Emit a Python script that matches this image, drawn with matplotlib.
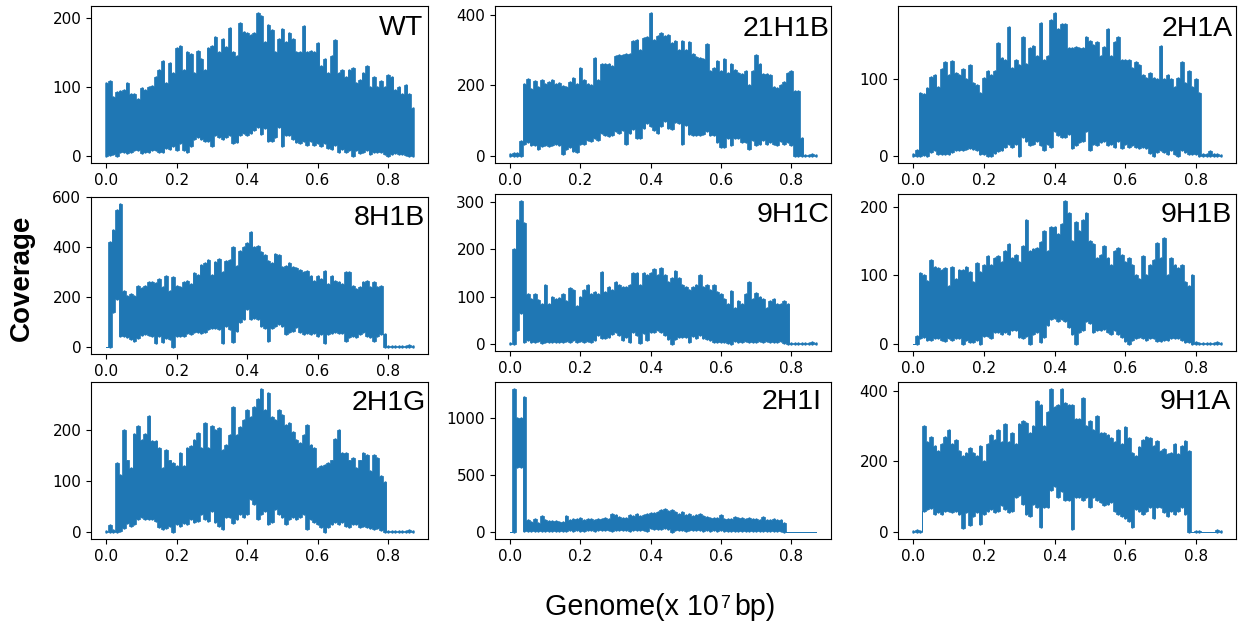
import numpy as np
import matplotlib
matplotlib.use('Agg')
import matplotlib.pyplot as plt

W, H = 1246, 628

# Genome position, x 10^7 bp
genome_pos = np.arange(88) / 100

# Coverage peaks and dips at every 0.01 of genome position
wt_high = [105, 108, 86, 92, 94, 95, 105, 90, 90, 82,
           98, 95, 100, 102, 114, 125, 137, 105, 135, 120,
           157, 160, 125, 150, 148, 120, 152, 140, 125, 157,
           160, 172, 150, 170, 158, 185, 150, 145, 192, 180,
           178, 175, 178, 207, 203, 165, 190, 182, 150, 170,
           184, 165, 178, 170, 150, 150, 188, 150, 152, 150,
           163, 130, 140, 120, 145, 168, 120, 125, 115, 125,
           127, 105, 110, 120, 130, 100, 115, 100, 108, 100,
           118, 115, 95, 100, 90, 103, 90, 70]
wt_low = [0, 1, 3, 0, 5, 5, 4, 6, 8, 8,
          4, 5, 5, 8, 8, 6, 5, 12, 10, 15,
          8, 18, 8, 6, 15, 25, 28, 25, 22, 22,
          15, 30, 28, 24, 28, 30, 18, 20, 30, 33,
          30, 33, 38, 42, 32, 40, 22, 22, 28, 42,
          14, 30, 30, 25, 20, 18, 22, 16, 22, 16,
          18, 14, 18, 12, 10, 16, 6, 10, 6, 8,
          0, 8, 4, 5, 8, 3, 6, 6, 5, 3,
          0, 3, 4, 3, 2, 1, 0, 0]

b21_high = [4, 8, 8, 42, 205, 218, 190, 212, 195, 215,
            205, 210, 215, 205, 208, 198, 195, 210, 222, 205,
            250, 215, 205, 200, 278, 215, 260, 262, 262, 255,
            282, 285, 285, 288, 290, 325, 328, 300, 335, 338,
            405, 330, 340, 348, 340, 342, 320, 325, 300, 325,
            300, 322, 290, 280, 278, 275, 318, 240, 250, 268,
            240, 275, 235, 260, 245, 235, 232, 240, 200, 240,
            285, 260, 232, 232, 230, 195, 192, 200, 210, 235,
            240, 185, 185, 50, 2, 2, 6, 2]
b21_low = [0, 0, 0, 0, 35, 38, 32, 30, 20, 28,
           30, 28, 30, 35, 30, 5, 20, 25, 15, 12,
           35, 35, 45, 42, 50, 45, 65, 60, 55, 60,
           70, 65, 72, 35, 65, 75, 52, 52, 78, 92,
           85, 72, 65, 85, 100, 80, 75, 95, 92, 35,
           88, 62, 58, 60, 58, 62, 70, 60, 60, 40,
           25, 25, 50, 30, 50, 52, 38, 40, 20, 45,
           30, 35, 45, 35, 40, 35, 32, 42, 35, 40,
           30, 0, 0, 0, 0, 0, 0, 0]

a2_high = [2, 8, 82, 80, 88, 103, 106, 90, 113, 122,
           105, 123, 108, 105, 113, 100, 118, 95, 92, 82,
           102, 110, 105, 110, 147, 128, 125, 168, 115, 125,
           118, 155, 120, 140, 143, 130, 173, 125, 130, 177,
           186, 165, 172, 172, 140, 140, 142, 140, 140, 155,
           150, 145, 148, 130, 142, 165, 130, 148, 155, 125,
           125, 125, 115, 122, 118, 105, 102, 108, 102, 100,
           143, 100, 105, 100, 90, 102, 122, 95, 110, 90,
           100, 82, 3, 3, 6, 2, 3, 1]
a2_low = [0, 0, 0, 1, 0, 5, 7, 3, 2, 2,
          2, 5, 8, 8, 8, 9, 10, 9, 8, 3,
          2, 0, 0, 4, 6, 7, 12, 15, 11, 15,
          0, 25, 20, 14, 16, 20, 14, 8, 15, 12,
          33, 27, 25, 24, 28, 10, 14, 18, 20, 33,
          8, 15, 14, 18, 20, 14, 16, 12, 20, 10,
          16, 12, 14, 12, 10, 12, 10, 4, 0, 5,
          8, 5, 3, 8, 2, 0, 8, 5, 3, 2,
          3, 0, 0, 0, 0, 0, 0, 0]

b8_high = [0, 420, 470, 550, 572, 225, 205, 210, 205, 245,
           235, 245, 260, 260, 255, 270, 240, 285, 225, 280,
           245, 240, 260, 265, 250, 298, 290, 330, 335, 350,
           290, 340, 352, 300, 345, 350, 400, 325, 385, 400,
           415, 460, 400, 405, 380, 370, 345, 335, 372, 370,
           320, 325, 335, 320, 318, 310, 300, 305, 285, 265,
           285, 270, 305, 250, 285, 265, 260, 250, 300, 300,
           245, 230, 240, 260, 265, 240, 260, 240, 245, 50,
           5, 5, 5, 5, 5, 5, 8, 3]
b8_low = [0, 0, 140, 190, 45, 42, 40, 30, 22, 35,
          48, 50, 48, 45, 15, 45, 20, 35, 30, 0,
          45, 42, 45, 55, 50, 60, 60, 55, 60, 70,
          75, 75, 70, 15, 85, 70, 20, 65, 100, 110,
          150, 110, 115, 110, 85, 75, 25, 75, 85, 90,
          85, 50, 60, 65, 80, 60, 50, 55, 50, 55,
          45, 50, 15, 50, 55, 60, 55, 55, 25, 40,
          45, 40, 50, 60, 45, 40, 25, 45, 50, 0,
          0, 0, 0, 0, 0, 0, 0, 0]

c9_high = [1, 200, 262, 302, 255, 105, 95, 105, 92, 85,
           125, 85, 100, 95, 98, 105, 90, 118, 115, 80,
           100, 115, 125, 105, 110, 105, 152, 110, 120, 115,
           130, 125, 120, 120, 125, 150, 150, 125, 150, 145,
           150, 158, 145, 160, 145, 130, 140, 155, 140, 125,
           120, 115, 120, 125, 145, 120, 125, 115, 125, 110,
           105, 95, 85, 112, 75, 90, 85, 105, 130, 95,
           108, 100, 95, 75, 90, 95, 85, 85, 90, 85,
           2, 1, 1, 1, 1, 1, 3, 1]
c9_low = [0, 0, 30, 65, 5, 8, 5, 3, 6, 2,
          5, 4, 4, 3, 5, 4, 6, 3, 8, 3,
          6, 5, 6, 5, 8, 18, 12, 12, 14, 20,
          25, 18, 8, 14, 5, 25, 18, 2, 22, 8,
          25, 25, 30, 25, 18, 10, 0, 10, 15, 14,
          15, 5, 16, 12, 18, 12, 10, 8, 5, 5,
          5, 4, 2, 0, 6, 5, 4, 6, 5, 3,
          3, 6, 4, 6, 4, 3, 5, 6, 2, 0,
          0, 0, 0, 0, 0, 0, 0, 0]

b9_high = [0, 12, 104, 100, 92, 122, 112, 110, 108, 110,
           85, 112, 95, 108, 108, 112, 105, 90, 118, 105,
           115, 128, 115, 125, 128, 120, 135, 145, 125, 130,
           120, 142, 180, 135, 138, 140, 148, 165, 135, 170,
           170, 160, 175, 208, 190, 150, 178, 165, 180, 190,
           150, 145, 125, 130, 143, 125, 115, 135, 140, 130,
           120, 125, 115, 100, 95, 128, 100, 115, 122, 147,
           125, 155, 100, 125, 115, 110, 115, 90, 85, 100,
           2, 1, 1, 1, 1, 1, 2, 1]
b9_low = [0, 0, 8, 10, 6, 6, 8, 8, 6, 4,
          8, 6, 8, 8, 0, 5, 2, 3, 5, 0,
          12, 12, 8, 18, 18, 15, 18, 14, 20, 20,
          10, 8, 12, 0, 14, 18, 2, 10, 28, 36,
          38, 33, 36, 33, 25, 15, 0, 18, 20, 34,
          30, 18, 20, 20, 22, 18, 15, 20, 15, 10,
          4, 0, 5, 8, 10, 8, 5, 8, 8, 4,
          4, 5, 6, 8, 8, 8, 6, 3, 2, 0,
          0, 0, 0, 0, 0, 0, 0, 0]

g2_high = [1, 14, 3, 135, 112, 200, 140, 125, 192, 208,
           180, 192, 228, 178, 178, 165, 125, 160, 140, 135,
           130, 155, 130, 165, 168, 180, 193, 165, 213, 165,
           207, 200, 203, 160, 170, 190, 245, 190, 205, 220,
           240, 225, 245, 260, 280, 240, 272, 225, 220, 240,
           230, 210, 213, 195, 180, 175, 190, 210, 170, 165,
           125, 130, 132, 135, 140, 182, 200, 155, 155, 140,
           145, 125, 140, 155, 150, 120, 150, 145, 110, 98,
           1, 1, 2, 1, 1, 1, 4, 2]
g2_low = [0, 0, 0, 0, 2, 8, 18, 12, 15, 25,
          30, 25, 25, 25, 22, 10, 5, 8, 12, 0,
          15, 12, 18, 15, 25, 20, 22, 35, 25, 22,
          40, 20, 12, 5, 30, 30, 18, 25, 35, 30,
          35, 65, 55, 25, 35, 40, 15, 20, 45, 35,
          30, 15, 25, 30, 25, 30, 35, 5, 25, 20,
          15, 10, 0, 10, 15, 20, 15, 20, 12, 10,
          15, 15, 10, 12, 10, 8, 5, 8, 4, 0,
          0, 0, 0, 0, 0, 0, 0, 0]

i2_high = [1, 1250, 1000, 1000, 1180, 105, 85, 115, 80, 140,
           105, 95, 95, 95, 85, 90, 140, 100, 110, 110,
           125, 105, 115, 110, 105, 115, 110, 120, 110, 160,
           145, 130, 120, 125, 145, 135, 155, 140, 145, 155,
           165, 165, 170, 195, 200, 185, 195, 170, 160, 175,
           150, 160, 140, 145, 155, 140, 130, 125, 125, 120,
           145, 115, 110, 115, 130, 125, 120, 115, 120, 110,
           110, 105, 130, 105, 100, 115, 105, 100, 80, 1,
           1, 1, 1, 1, 1, 1, 1, 1]
i2_low = [0, 0, 570, 570, 5, 10, 5, 8, 5, 8,
          5, 8, 10, 10, 8, 5, 10, 12, 10, 12,
          8, 10, 12, 12, 10, 15, 15, 12, 15, 10,
          20, 15, 15, 18, 10, 18, 15, 20, 12, 10,
          30, 28, 28, 25, 30, 25, 2, 20, 20, 15,
          10, 12, 15, 18, 15, 10, 12, 10, 12, 8,
          12, 5, 10, 5, 8, 8, 10, 5, 10, 5,
          8, 5, 10, 5, 8, 10, 5, 10, 0, 0,
          0, 0, 0, 0, 0, 0, 0, 0]

a9_high = [2, 5, 3, 300, 255, 270, 245, 230, 250, 270,
           288, 250, 260, 230, 215, 225, 238, 225, 215, 245,
           200, 250, 275, 260, 290, 255, 305, 255, 280, 250,
           305, 315, 310, 280, 300, 370, 360, 300, 340, 405,
           355, 360, 405, 365, 360, 360, 320, 320, 380, 300,
           315, 290, 328, 280, 280, 275, 265, 255, 288, 250,
           298, 265, 225, 215, 240, 260, 270, 265, 245, 258,
           230, 235, 220, 225, 250, 220, 245, 258, 230, 1,
           2, 3, 1, 1, 1, 1, 6, 2]
a9_low = [0, 0, 0, 60, 65, 68, 50, 55, 50, 60,
          58, 55, 60, 50, 10, 55, 20, 45, 55, 22,
          50, 60, 65, 55, 60, 75, 65, 55, 60, 100,
          105, 80, 50, 45, 80, 70, 15, 70, 70, 120,
          130, 100, 115, 90, 90, 8, 100, 100, 90, 100,
          70, 100, 90, 85, 75, 80, 85, 60, 50, 45,
          40, 30, 15, 65, 60, 50, 60, 70, 40, 70,
          70, 55, 45, 60, 50, 60, 70, 50, 0, 0,
          0, 0, 0, 0, 0, 0, 0, 0]

names = ['WT', '21H1B', '2H1A', '8H1B', '9H1C', '9H1B', '2H1G', '2H1I', '9H1A']
highs = [wt_high, b21_high, a2_high, b8_high, c9_high, b9_high, g2_high, i2_high, a9_high]
lows = [wt_low, b21_low, a2_low, b8_low, c9_low, b9_low, g2_low, i2_low, a9_low]
x_ticks = [0, 0.2, 0.4, 0.6, 0.8]
y_ticks = [[0, 100, 200], [0, 200, 400], [0, 100],
           [0, 200, 400, 600], [0, 100, 200, 300], [0, 100, 200],
           [0, 100, 200], [0, 500, 1000], [0, 200, 400]]

# left, right, top, bottom of each panel in pixels
boxes = [(91, 428, 6, 163), (495, 831, 6, 163), (898, 1236, 6, 163),
         (91, 428, 197, 354), (495, 831, 194, 351), (898, 1236, 194, 351),
         (91, 428, 382, 539), (495, 831, 382, 539), (898, 1236, 382, 539)]
# right end and middle height of the panel names in pixels
label_pos = [(423, 28), (829, 29), (1233, 29),
             (425, 218), (829, 215), (1232, 215),
             (426, 403), (822, 402), (1231, 402)]

fig = plt.figure(figsize=(W / 100, H / 100), dpi=100)

for i in range(9):
    left, right, top, bottom = boxes[i]
    ax = fig.add_axes([left / W, 1 - bottom / H, (right - left) / W, (bottom - top) / H])
    # the trace is too dense to see single swings, so draw its band of peaks and dips
    ax.fill_between(genome_pos, lows[i], highs[i], step='mid', color='C0', lw=0.5)
    ax.vlines(genome_pos, lows[i], highs[i], color='C0', lw=1.8, capstyle='round')
    ax.set_xticks(x_ticks)
    ax.set_yticks(y_ticks[i])
    ax.tick_params(labelsize=11)
    fig.text(label_pos[i][0] / W, 1 - label_pos[i][1] / H, names[i],
             ha='right', va='center', fontsize=20.5, family='Liberation Sans')

fig.text(22 / W, 1 - 278 / H, 'Coverage', rotation=90, ha='center', va='center',
         fontsize=20, fontweight='bold', family='Liberation Sans')
fig.text(545 / W, 1 - 607 / H, 'Genome(x 10', ha='left', va='center',
         fontsize=20.6, family='Liberation Sans')
fig.text(720 / W, 1 - 604 / H, '7', ha='left', va='center',
         fontsize=13, family='Liberation Sans')
fig.text(775 / W, 1 - 607 / H, 'bp)', ha='right', va='center',
         fontsize=20.6, family='Liberation Sans')

fig.savefig('out.png', dpi=100)
